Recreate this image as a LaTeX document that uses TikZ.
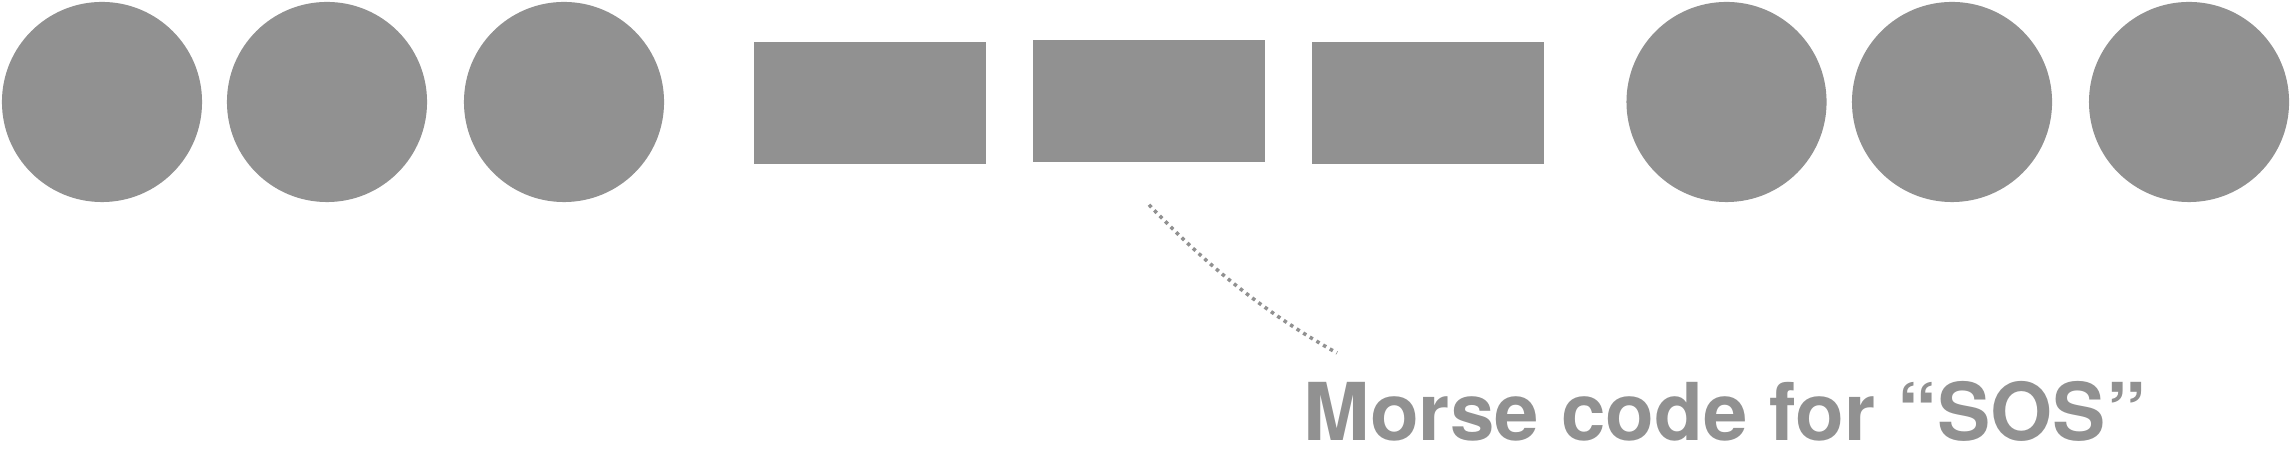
\documentclass[tikz,border=0pt]{standalone}
\usepackage{fontspec}
\setmainfont{TeX Gyre Heros}
\definecolor{morsegray}{RGB}{145,145,145}
\begin{document}
\begin{tikzpicture}[x=0.01cm,y=-0.01cm,
  dotnode/.style={circle,fill=morsegray,draw=none,minimum size=2cm,inner sep=0pt},
  dashnode/.style={rectangle,fill=morsegray,draw=none,minimum width=2.32cm,minimum height=1.22cm,inner sep=0pt},
  labeltext/.style={text=morsegray,font=\fontsize{22.7}{26}\selectfont\bfseries,inner sep=0pt,anchor=base west},
  pointer/.style={draw=morsegray,line width=1pt,dash pattern=on 1pt off 1.2pt}]
\useasboundingbox (0,0) rectangle (2292,468);
\node[dotnode] (d1) at (102,102) {};
\node[dotnode] (d2) at (327,102) {};
\node[dotnode] (d3) at (564,102) {};
\node[dashnode] (l1) at (870,103) {};
\node[dashnode] (l2) at (1149,101) {};
\node[dashnode] (l3) at (1428,103) {};
\node[dotnode] (e1) at (1726.5,102) {};
\node[dotnode] (e2) at (1952,102) {};
\node[dotnode] (e3) at (2189,102) {};
\node[labeltext] (lab) at (1303,441) {Morse code for “SOS”};
\coordinate (ps) at ([yshift=-0.42cm]l2.south);
\coordinate (pe) at (1337,353);
\draw[pointer] (ps) .. controls (1209,268) and (1267,314) .. (pe);
\end{tikzpicture}
\end{document}
